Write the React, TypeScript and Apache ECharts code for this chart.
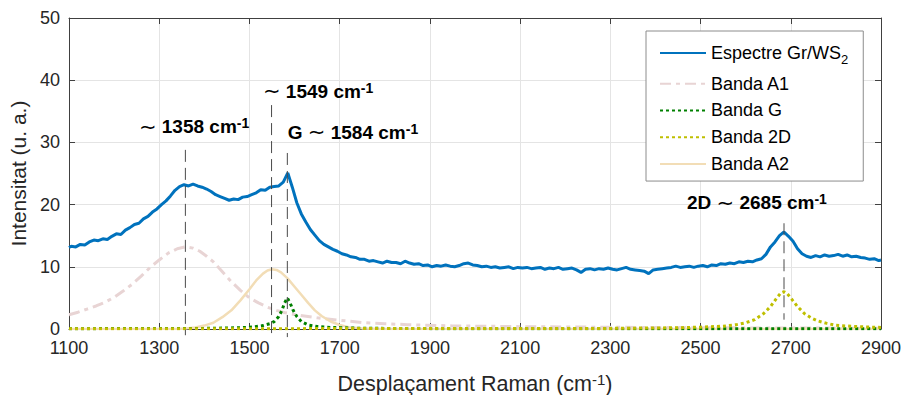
import React, { useEffect, useRef } from "react";
import * as echarts from "echarts";

const FONT = "'Liberation Sans', Arial, Helvetica, sans-serif";
const INK = "#262626";

// x-axis ticks (cm^-1) and y-axis ticks (u. a.)
const X_MIN = 1100;
const X_MAX = 2900;
const X_STEP = 200;
const Y_MIN = 0;
const Y_MAX = 50;
const Y_STEP = 10;

// Raman shift sampling grid of the measured spectrum: 1100, 1105, 1115, ..., 2895, 2900
const spectrumShift: number[] = [1100];
for (let s = 1105; s <= 2895; s += 10) spectrumShift.push(s);
spectrumShift.push(2900);

const spectrumIntensity = [
  13.1,
  13.3, 13.2, 13.6, 13.5, 14.0, 14.3, 14.2, 14.5, 14.4, 14.9,
  15.3, 15.2, 15.9, 16.3, 16.8, 17.0, 17.7, 18.1, 18.8, 19.3,
  20.0, 20.6, 21.4, 22.3, 22.9, 23.2, 23.0, 23.3, 23.0, 22.8,
  22.5, 22.1, 21.6, 21.3, 21.0, 20.7, 20.9, 20.8, 21.2, 21.3,
  21.6, 21.9, 22.4, 22.3, 22.8, 22.9, 23.0, 23.6, 25.1, 22.8,
  20.3, 18.5, 17.2, 16.0, 15.1, 14.2, 13.6, 13.2, 12.8, 12.5,
  12.1, 11.9, 11.6, 11.5, 11.2, 11.2, 10.9, 11.0, 10.8, 10.6,
  10.9, 10.7, 10.7, 10.5, 10.9, 10.6, 10.4, 10.5, 10.2, 10.3,
  10.0, 10.2, 10.1, 10.3, 10.1, 10.0, 10.2, 10.5, 10.6, 10.3,
  10.2, 10.0, 10.1, 9.9, 10.0, 9.8, 9.9, 10.0, 9.7, 9.9,
  9.8, 9.9, 9.7, 9.8, 9.9, 9.6, 9.8, 9.7, 9.9, 9.6,
  9.7, 9.8, 9.5, 9.1, 9.6, 9.7, 9.5, 9.7, 9.6, 9.8,
  9.6, 9.5, 9.7, 9.9, 9.6, 9.5, 9.4, 9.3, 8.9, 9.5,
  9.6, 9.7, 9.8, 9.9, 10.1, 9.9, 10.0, 10.1, 9.9, 10.1,
  10.2, 10.0, 10.3, 10.2, 10.5, 10.4, 10.6, 10.5, 10.8, 10.7,
  10.9, 10.8, 11.1, 11.3, 12.0, 13.2, 14.0, 15.0, 15.6, 14.9,
  14.1, 12.9, 12.1, 11.7, 11.5, 11.8, 11.6, 11.9, 11.7, 11.8,
  12.0, 11.7, 11.9, 11.6, 11.7, 11.5, 11.4, 11.2, 11.3, 11.0,
  11.1,
];

// Fitted band A1
const a1Shift = [1100, 1120, 1140, 1160, 1180, 1200, 1220, 1240, 1260, 1280, 1300, 1320, 1340, 1358, 1375, 1390, 1405, 1420, 1440, 1460, 1480, 1500, 1520, 1540, 1560, 1580, 1610, 1650, 1700, 1750, 1800, 1850, 1950, 2100, 2300, 2600, 2900];
const a1Value = [2.3, 2.7, 3.2, 3.7, 4.3, 5.1, 6.1, 7.2, 8.5, 9.9, 11.1, 12.2, 12.9, 13.2, 13.0, 12.5, 11.7, 10.8, 9.2, 7.6, 6.2, 5.0, 4.2, 3.5, 3.0, 2.6, 2.2, 1.8, 1.4, 1.05, 0.85, 0.7, 0.5, 0.38, 0.28, 0.18, 0.12];

// Fitted band G
const gShift = [1100, 1400, 1480, 1510, 1530, 1545, 1555, 1565, 1572, 1578, 1584, 1590, 1597, 1605, 1615, 1630, 1650, 1680, 1750, 1900, 2900];
const gValue = [0.05, 0.1, 0.2, 0.35, 0.55, 0.85, 1.2, 2.0, 3.0, 4.2, 5.0, 4.2, 3.0, 2.0, 1.2, 0.65, 0.4, 0.25, 0.12, 0.06, 0.02];

// Fitted band 2D
const d2Shift = [1100, 2300, 2450, 2500, 2550, 2580, 2600, 2620, 2640, 2655, 2668, 2678, 2685, 2692, 2702, 2715, 2730, 2745, 2760, 2780, 2800, 2840, 2900];
const d2Value = [0.03, 0.1, 0.2, 0.3, 0.45, 0.7, 1.0, 1.5, 2.5, 3.6, 4.9, 5.8, 6.0, 5.7, 4.8, 3.6, 2.5, 1.8, 1.3, 0.9, 0.6, 0.4, 0.25];

// Fitted band A2
const a2Shift = [1100, 1340, 1360, 1380, 1400, 1420, 1440, 1460, 1480, 1500, 1515, 1530, 1540, 1550, 1560, 1570, 1585, 1600, 1615, 1630, 1645, 1660, 1680, 1700, 1720, 1750, 1800, 2900];
const a2Value = [0, 0, 0.1, 0.25, 0.55, 1.0, 1.9, 3.0, 4.6, 6.4, 7.8, 8.9, 9.4, 9.6, 9.5, 9.1, 8.1, 6.8, 5.5, 4.2, 3.0, 2.1, 1.2, 0.65, 0.3, 0.1, 0.02, 0];

// Peak marker lines: position, top value, bottom value
const markerShift = [1358, 1549, 1584, 2685];
const markerTop = [28.8, 36.0, 28.3, 17.0];
const markerBottom = [-1.0, -1.0, -1.3, 1.5];

// Peak annotations
const annotationText = [
  "{t|∼}{b| 1358 cm}{s|-1}",
  "{t|∼}{b| 1549 cm}{s|-1}",
  "{b|G }{t|∼}{b| 1584 cm}{s|-1}",
  "{b|2D }{t|∼}{b| 2685 cm}{s|-1}",
];
const annotationX = [1255, 1530, 1585, 2470];
const annotationY = [32.5, 38.2, 31.6, 20.3];

const SERIES_NAMES = ["Espectre Gr/WS2", "Banda A1", "Banda G", "Banda 2D", "Banda A2"];

const zip = (xs: number[], ys: number[]) => xs.map((x, i) => [x, ys[i]]);

export default function App() {
  const ref = useRef<HTMLDivElement>(null);

  useEffect(() => {
    if (!ref.current) return;
    const chart = echarts.init(ref.current, undefined, { renderer: "svg" });

    const axisLineStyle = { color: "#404040", width: 1 };
    const baseX = {
      type: "value" as const,
      min: X_MIN,
      max: X_MAX,
      interval: X_STEP,
    };
    const baseY = {
      type: "value" as const,
      min: Y_MIN,
      max: Y_MAX,
      interval: Y_STEP,
    };
    const plain = (v: number) => String(v);

    const option: any = {
      animation: false,
      backgroundColor: "#ffffff",
      textStyle: { fontFamily: FONT },
      grid: { left: 69, right: 22, top: 18, bottom: 66, containLabel: false, outerBoundsMode: "none" },
      xAxis: [
        {
          ...baseX,
          position: "bottom",
          axisLine: { show: true, onZero: false, lineStyle: axisLineStyle },
          axisTick: { show: true, inside: true, length: 6, lineStyle: axisLineStyle },
          axisLabel: { fontSize: 18, lineHeight: 16, color: INK, margin: 11, fontFamily: FONT, formatter: plain },
          splitLine: { show: true, lineStyle: { color: "#e4e4e4", width: 1 } },
          name: "{n|Desplaçament Raman (cm}{s|-1}{n|)}",
          nameLocation: "middle",
          nameGap: 43,
          nameTextStyle: {
            rich: {
              n: { fontSize: 21.5, color: INK, fontFamily: FONT, lineHeight: 24 },
              s: { fontSize: 15, color: INK, fontFamily: FONT, lineHeight: 15, verticalAlign: "top" },
            },
          },
        },
        {
          ...baseX,
          position: "top",
          axisLine: { show: true, onZero: false, lineStyle: axisLineStyle },
          axisTick: { show: true, inside: true, length: 6, lineStyle: axisLineStyle },
          axisLabel: { show: false },
          splitLine: { show: false },
        },
      ],
      yAxis: [
        {
          ...baseY,
          position: "left",
          axisLine: { show: true, onZero: false, lineStyle: axisLineStyle },
          axisTick: { show: true, inside: true, length: 6, lineStyle: axisLineStyle },
          axisLabel: { fontSize: 18, lineHeight: 16, color: INK, margin: 9, fontFamily: FONT, formatter: plain },
          splitLine: { show: true, lineStyle: { color: "#e4e4e4", width: 1 } },
          name: "Intensitat (u. a.)",
          nameLocation: "middle",
          nameGap: 35,
          nameTextStyle: { fontSize: 21, color: INK, fontFamily: FONT },
        },
        {
          ...baseY,
          position: "right",
          axisLine: { show: true, onZero: false, lineStyle: axisLineStyle },
          axisTick: { show: true, inside: true, length: 6, lineStyle: axisLineStyle },
          axisLabel: { show: false },
          splitLine: { show: false },
        },
      ],
      legend: {
        orient: "vertical",
        left: 646,
        top: 31,
        padding: [13, 15, 8, 13],
        itemWidth: 46,
        itemHeight: 14,
        itemGap: 8.8,
        selectedMode: false,
        backgroundColor: "#ffffff",
        borderColor: "#8c8c8c",
        borderWidth: 1,
        itemStyle: { opacity: 0 },
        data: SERIES_NAMES,
        formatter: (name: string) =>
          name === "Espectre Gr/WS2" ? "{t|Espectre Gr/WS}{u|2}" : "{t|" + name + "}",
        textStyle: {
          color: "#000",
          fontSize: 18,
          fontFamily: FONT,
          rich: {
            t: { fontSize: 18, color: "#000", fontFamily: FONT },
            u: { fontSize: 13, color: "#000", fontFamily: FONT, padding: [12.7, 0, 0, 0] },
          },
        },
      },
      series: [
        {
          name: "Espectre Gr/WS2",
          type: "line",
          data: zip(spectrumShift, spectrumIntensity),
          symbol: "none",
          lineStyle: { color: "#0072BD", width: 3 },
          itemStyle: { color: "#0072BD" },
          z: 4,
        },
        {
          name: "Banda A1",
          type: "line",
          data: zip(a1Shift, a1Value),
          symbol: "none",
          lineStyle: { color: "#E8D4D4", width: 3, type: [11, 5, 4, 5] },
          itemStyle: { color: "#E8D4D4" },
          z: 2,
        },
        {
          name: "Banda G",
          type: "line",
          data: zip(gShift, gValue),
          symbol: "none",
          lineStyle: { color: "#008000", width: 3, type: [3, 3] },
          itemStyle: { color: "#008000" },
          z: 3,
        },
        {
          name: "Banda 2D",
          type: "line",
          data: zip(d2Shift, d2Value),
          symbol: "none",
          lineStyle: { color: "#BFBF00", width: 3, type: [3, 3] },
          itemStyle: { color: "#BFBF00" },
          z: 3,
        },
        {
          name: "Banda A2",
          type: "line",
          data: zip(a2Shift, a2Value),
          symbol: "none",
          lineStyle: { color: "#F2DDB6", width: 2.5 },
          itemStyle: { color: "#F2DDB6" },
          z: 2,
        },
        {
          name: "markers",
          type: "custom",
          clip: false,
          silent: true,
          z: 5,
          data: markerShift.map((s, i) => [s, markerTop[i], markerBottom[i]]),
          encode: { x: 0, y: [1, 2] },
          renderItem: (_params: any, api: any) => {
            const x = api.value(0);
            const p1 = api.coord([x, api.value(1)]);
            const p2 = api.coord([x, api.value(2)]);
            return {
              type: "line",
              shape: { x1: p1[0], y1: p1[1], x2: p2[0], y2: p2[1] },
              style: { stroke: "#4a4a4a", lineWidth: 1, lineDash: [12, 6] },
            };
          },
        },
        {
          name: "annotations",
          type: "custom",
          clip: false,
          silent: true,
          z: 6,
          data: annotationX.map((x, i) => [x, annotationY[i], i]),
          encode: { x: 0, y: 1 },
          renderItem: (_params: any, api: any) => {
            const p = api.coord([api.value(0), api.value(1)]);
            const i = api.value(2);
            return {
              type: "text",
              x: p[0],
              y: p[1],
              style: {
                text: annotationText[i],
                align: "left",
                verticalAlign: "middle",
                fill: "#000",
                rich: {
                  b: { fontSize: 19, fontWeight: "bold", fontFamily: FONT, fill: "#000", lineHeight: 21 },
                  t: { fontSize: 21, fontFamily: "'DejaVu Sans', sans-serif", fill: "#000", lineHeight: 21 },
                  s: { fontSize: 14, fontWeight: "bold", fontFamily: FONT, fill: "#000", lineHeight: 14, verticalAlign: "top" },
                },
              },
            };
          },
        },
      ],
    };

    chart.setOption(option);
    return () => chart.dispose();
  }, []);

  return (
    <div
      ref={ref}
      style={{ position: "absolute", left: 0, top: 0, width: 903, height: 395, background: "#fff" }}
    />
  );
}
